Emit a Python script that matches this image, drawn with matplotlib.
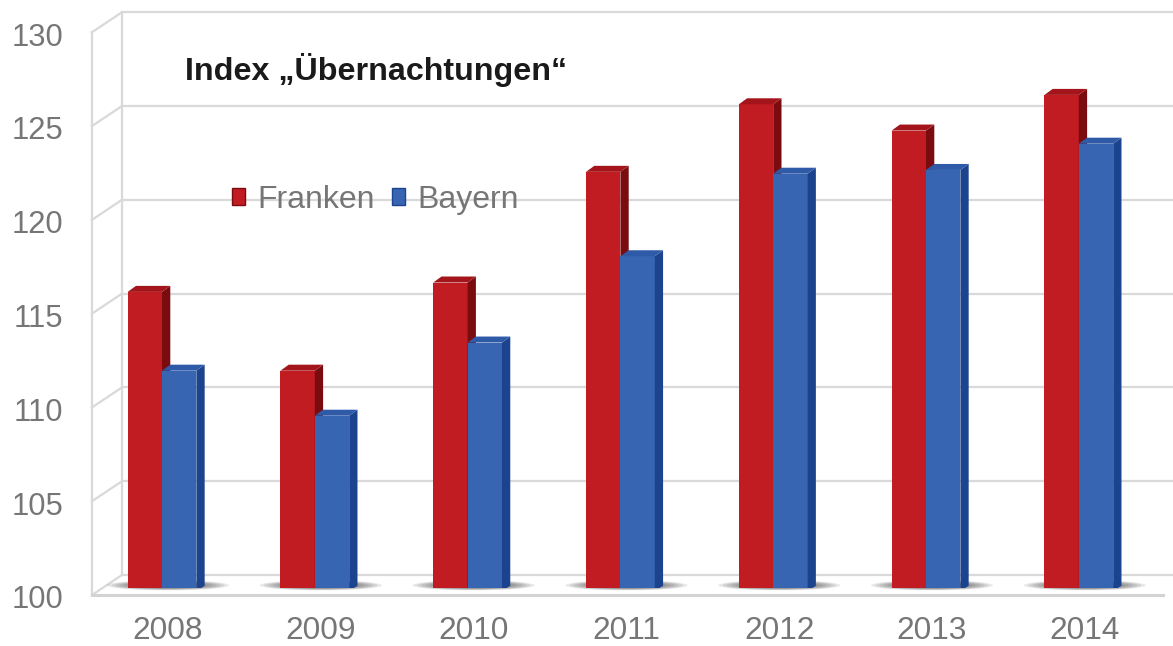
import numpy as np
import matplotlib
matplotlib.use('Agg')
import matplotlib.pyplot as plt
from matplotlib.patches import Polygon, Ellipse, Patch
from matplotlib.transforms import ScaledTranslation

# ---------------- data ----------------
years = ['2008', '2009', '2010', '2011', '2012', '2013', '2014']
franken = [115.8, 111.6, 116.3, 122.2, 125.8, 124.4, 126.3]
bayern = [111.6, 109.2, 113.1, 117.7, 122.1, 122.3, 123.7]
series_names = ['Franken', 'Bayern']
y_ticks = [100, 105, 110, 115, 120, 125, 130]
title = 'Index \u201eÜbernachtungen\u201c'

# ---------------- style ----------------
plt.rcParams['font.family'] = ['Liberation Sans', 'DejaVu Sans']
grid_col = '#d9d9d9'
txt_col = '#767676'
F_front, F_side, F_top = '#c01c22', '#7a0c10', '#a3151a'
B_front, B_side, B_top = '#3865b2', '#1c448e', '#2f5aa8'

W, H, DPI = 1173, 646, 100
fig = plt.figure(figsize=(W / DPI, H / DPI), dpi=DPI)

# bar plane (pixel positions measured from top-left)
L, R, Bp, Tp = 85.6, 1155.2, 588.3, 25.5
ax = fig.add_axes([L / W, (H - Bp) / H, (R - L) / W, (Bp - Tp) / H])
ymin, ymax = 100, 130
ax.set_xlim(-0.5, len(years) - 0.5)
ax.set_ylim(ymin, ymax)
ax.patch.set_alpha(0)
for s in ax.spines.values():
    s.set_visible(False)

px_x = (R - L) / len(years)
px_y = (Bp - Tp) / (ymax - ymin)
ux = lambda p: p / px_x
uy = lambda p: p / px_y

x_front_left = -0.5 + ux(92 - L)
x_back_left = -0.5 + ux(122 - L)
x_right = -0.5 + ux(W + 5 - L)
x_floor_right = -0.5 + ux(1163 - L)
back_dy = uy(13.3)
front_dy = uy(6.7)

# walls / gridlines
gkw = dict(color=grid_col, lw=1.6, clip_on=False, zorder=1)
for v in y_ticks:
    ax.plot([x_back_left, x_right], [v + back_dy, v + back_dy], **gkw)
    ax.plot([x_front_left, x_back_left], [v - front_dy, v + back_dy], **gkw)
ax.plot([x_front_left, x_front_left], [ymin - front_dy, ymax - front_dy], **gkw)
ax.plot([x_back_left, x_back_left], [ymin + back_dy, ymax + back_dy], **gkw)
ax.plot([x_front_left, x_floor_right], [ymin - front_dy, ymin - front_dy],
        color='#d3d3d3', lw=2.2, clip_on=False, zorder=1)

# bars
x = np.arange(len(years))
bw = 0.225
side_dx = ux(8.3)
top_dy = uy(6.0)

# soft floor shadows
for i in x:
    for k in range(12):
        s = 1 - k * 0.07
        ax.add_patch(Ellipse((i + ux(6), ymin + uy(3.0)), ux(122) * s, uy(10) * s,
                             color='#303030', alpha=0.11, lw=0, zorder=2, clip_on=False))

def draw_series(lefts, vals, front, side, top, z):
    ax.bar(lefts, np.array(vals) - ymin, bottom=ymin, width=bw, align='edge',
           color=front, lw=0, zorder=z)
    for xl, v in zip(lefts, vals):
        xr = xl + bw
        ax.add_patch(Polygon([(xr, ymin), (xr, v), (xr + side_dx, v + top_dy),
                              (xr + side_dx, ymin + top_dy * 0.4), (xr + side_dx * 0.5, ymin)],
                             closed=True, color=side, lw=0, zorder=z))
        ax.add_patch(Polygon([(xl, v), (xr, v), (xr + side_dx, v + top_dy), (xl + side_dx, v + top_dy)],
                             closed=True, color=top, lw=0, zorder=z))

draw_series(x - bw, franken, F_front, F_side, F_top, 3)
draw_series(x, bayern, B_front, B_side, B_top, 4)

# ticks / labels
ax.set_yticks(y_ticks)
ax.set_yticklabels([str(v) for v in y_ticks])
ax.tick_params(axis='y', length=0, pad=(L - 63) * 72 / DPI, labelsize=22.3, labelcolor=txt_col)
for lab in ax.get_yticklabels():
    lab.set_transform(lab.get_transform() + ScaledTranslation(0, -8.5 / DPI, fig.dpi_scale_trans))
ax.set_xticks(x)
ax.set_xticklabels(years)
ax.tick_params(axis='x', length=0, pad=(620 - Bp - 4) * 72 / DPI, labelsize=22.8, labelcolor=txt_col)
for lab in ax.get_xticklabels():
    lab.set_transform(lab.get_transform() + ScaledTranslation(6 / DPI, 0, fig.dpi_scale_trans))

# title
fig.text(185 / W, 1 - 70 / H, title, fontsize=23.2, weight='bold', color='#1a1a1a',
         ha='left', va='center')

# legend
handles = [Patch(facecolor=F_front, edgecolor=F_side, lw=1),
           Patch(facecolor=B_front, edgecolor=B_side, lw=1)]
leg = fig.legend(handles, series_names, loc='center left',
                 bbox_to_anchor=(232 / W, 1 - 200 / H), bbox_transform=fig.transFigure,
                 ncol=2, frameon=False, fontsize=23, handlelength=0.42, handleheight=0.42,
                 handletextpad=0.38, columnspacing=0.52, borderpad=0, borderaxespad=0)
for t in leg.get_texts():
    t.set_color(txt_col)

fig.savefig('out.png', dpi=DPI)
